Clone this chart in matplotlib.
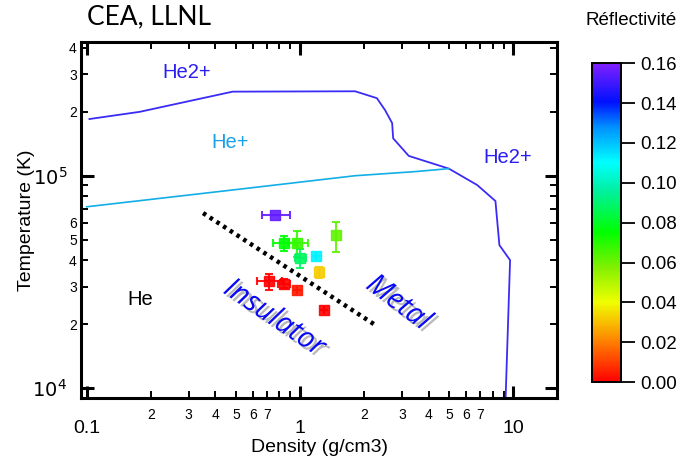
import numpy as np
import matplotlib
matplotlib.use("Agg")
import matplotlib.pyplot as plt
import matplotlib.patheffects as pe
from matplotlib.colors import LinearSegmentedColormap, Normalize
from matplotlib.ticker import FixedLocator, FixedFormatter

plt.rcParams['font.family'] = ['Liberation Sans', 'DejaVu Sans']

# He2+ / He+ ionisation boundary (density g/cm3, temperature K)
he2_rho = [0.103, 0.177, 0.483, 1.81, 2.29, 2.50, 2.70, 2.73, 3.23, 4.98, 6.76, 8.23, 8.59, 9.64, 9.17]
he2_T = [1.85e5, 2.0e5, 2.49e5, 2.5e5, 2.32e5, 2.04e5, 1.77e5, 1.50e5, 1.24e5, 1.08e5, 9.04e4, 7.6e4, 4.71e4, 4.0e4, 8.5e3]

# He / He+ boundary
he1_rho = [0.1, 0.484, 1.81, 3.43, 4.98]
he1_T = [7.14e4, 8.57e4, 1.0e5, 1.045e5, 1.08e5]

# Insulator / metal separation
sep_rho = [0.351, 2.25]
sep_T = [6.67e4, 1.98e4]

# Measurements
rho = [0.763, 0.843, 0.97, 1.0, 1.48, 1.19, 1.23, 0.718, 0.841, 0.967, 1.29]
temp = [6.53e4, 4.8e4, 4.8e4, 4.08e4, 5.25e4, 4.2e4, 3.5e4, 3.18e4, 3.1e4, 2.89e4, 2.33e4]
refl = [0.155, 0.075, 0.068, 0.088, 0.062, 0.112, 0.032, 0.0, 0.0, 0.004, 0.0]
rho_lo = [0.66, 0.75, 0.88, 0.95, 1.48, 1.19, 1.23, 0.63, 0.79, 0.967, 1.29]
rho_hi = [0.90, 0.95, 1.09, 1.07, 1.48, 1.19, 1.23, 0.82, 0.90, 0.967, 1.29]
temp_lo = [6.53e4, 4.4e4, 4.15e4, 3.67e4, 4.39e4, 4.2e4, 3.3e4, 2.9e4, 2.95e4, 2.89e4, 2.33e4]
temp_hi = [6.53e4, 5.2e4, 5.5e4, 4.5e4, 6.06e4, 4.2e4, 3.7e4, 3.45e4, 3.25e4, 2.89e4, 2.33e4]

x_minor_ticks = [0.2, 0.3, 0.4, 0.5, 0.6, 0.7, 0.8, 0.9, 2, 3, 4, 5, 6, 7, 8, 9]
x_minor_labels = ['2', '3', '4', '5', '6', '7', '', '', '2', '3', '4', '5', '6', '7', '', '']
y_minor_ticks = [2e4, 3e4, 4e4, 5e4, 6e4, 7e4, 8e4, 9e4, 2e5, 3e5, 4e5]
y_minor_labels = ['2', '3', '4', '5', '6', '', '', '', '2', '3', '4']
cbar_ticks = [0.0, 0.02, 0.04, 0.06, 0.08, 0.10, 0.12, 0.14, 0.16]

cmap = LinearSegmentedColormap.from_list('refl', [
    (0.0, '#ff0000'), (0.12, '#ff7a00'), (0.25, '#f0ff00'), (0.36, '#80f000'),
    (0.47, '#00ff00'), (0.6, '#00f0a0'), (0.69, '#00ffff'), (0.8, '#0090ff'),
    (0.88, '#0010ff'), (1.0, '#8020ff')])
norm = Normalize(0.0, 0.16)

fig = plt.figure(figsize=(6.85, 4.66), dpi=100)
ax = fig.add_axes([0.1182, 0.146, 0.695, 0.764])
ax.set_xscale('log')
ax.set_yscale('log')
ax.set_xlim(0.094, 16)
ax.set_ylim(8970, 4.27e5)

ax.plot(he2_rho, he2_T, color='#3b2cf5', lw=1.3)
ax.plot(he1_rho, he1_T, color='#12aee8', lw=1.2)
ax.plot(sep_rho, sep_T, color='black', lw=3.2, linestyle=(0, (0.8, 1.0)))

for i in range(len(rho)):
    c = cmap(norm(refl[i]))
    xe = [[rho[i] - rho_lo[i]], [rho_hi[i] - rho[i]]]
    ye = [[temp[i] - temp_lo[i]], [temp_hi[i] - temp[i]]]
    ax.errorbar([rho[i]], [temp[i]], xerr=xe, yerr=ye, fmt='s', color=c,
                ms=7, mec=c, mfc=c, elinewidth=1.5, capsize=3, capthick=1.5, alpha=0.9)

ax.text(0.295, 3.05e5, 'He2+', color='#2a1ef0', fontsize=14.5, ha='center', va='center')
ax.text(0.469, 1.43e5, 'He+', color='#1aa2e6', fontsize=14.5, ha='center', va='center')
ax.text(9.37, 1.22e5, 'He2+', color='#2a1ef0', fontsize=14.5, ha='center', va='center')
ax.text(0.179, 2.6e4, 'He', color='black', fontsize=14.5, ha='center', va='center')

shadow = [pe.withSimplePatchShadow(offset=(2.2, -2.2), shadow_rgbFace='#666666', alpha=0.45)]
ax.text(0.755, 2.13e4, 'Insulator', color='#0a0af5', fontsize=21, style='italic',
        family=['Open Sans', 'DejaVu Sans'], rotation=-34, ha='center', va='center',
        rotation_mode='anchor', path_effects=shadow)
ax.text(2.88, 2.51e4, 'Metal', color='#0a0af5', fontsize=21, style='italic',
        family=['Open Sans', 'DejaVu Sans'], rotation=-37, ha='center', va='center',
        rotation_mode='anchor', path_effects=shadow)

for s in ax.spines.values():
    s.set_linewidth(2.2)

ax.xaxis.set_major_locator(FixedLocator([0.1, 1, 10]))
ax.xaxis.set_major_formatter(FixedFormatter(['0.1', '1', '10']))
ax.xaxis.set_minor_locator(FixedLocator(x_minor_ticks))
ax.xaxis.set_minor_formatter(FixedFormatter(x_minor_labels))
ax.yaxis.set_major_locator(FixedLocator([1e4, 1e5]))
ax.yaxis.set_major_formatter(FixedFormatter(['$10^4$', '$10^5$']))
ax.yaxis.set_minor_locator(FixedLocator(y_minor_ticks))
ax.yaxis.set_minor_formatter(FixedFormatter(y_minor_labels))

ax.tick_params(which='major', direction='in', length=9, width=2.2, top=True, right=True,
               labelsize=14)
ax.tick_params(which='minor', direction='in', length=5, width=1.4, top=True, right=True,
               labelsize=10, pad=3)
ax.tick_params(axis='x', which='minor', pad=7)
ax.tick_params(axis='x', which='major', pad=16)
ax.tick_params(axis='y', which='major', pad=10)

ax.set_xlabel('Density (g/cm3)', fontsize=14, labelpad=1)
ax.set_ylabel('Temperature (K)', fontsize=14, labelpad=-2)

fig.text(0.127, 0.963, 'CEA, LLNL', fontsize=19, family=['Lato', 'DejaVu Sans'],
         ha='left', va='center')

cax = fig.add_axes([0.864, 0.180, 0.0423, 0.6845])
sm = plt.cm.ScalarMappable(norm=norm, cmap=cmap)
cb = fig.colorbar(sm, cax=cax, ticks=cbar_ticks)
cb.ax.set_yticklabels([f'{t:.2f}' for t in cbar_ticks])
cb.ax.tick_params(direction='out', length=10, width=1.3, labelsize=13.5, pad=4)
cb.outline.set_linewidth(1.4)
fig.text(0.921, 0.955, 'Réflectivité', fontsize=13.5, ha='center', va='center')

fig.savefig('out.png', dpi=100)
